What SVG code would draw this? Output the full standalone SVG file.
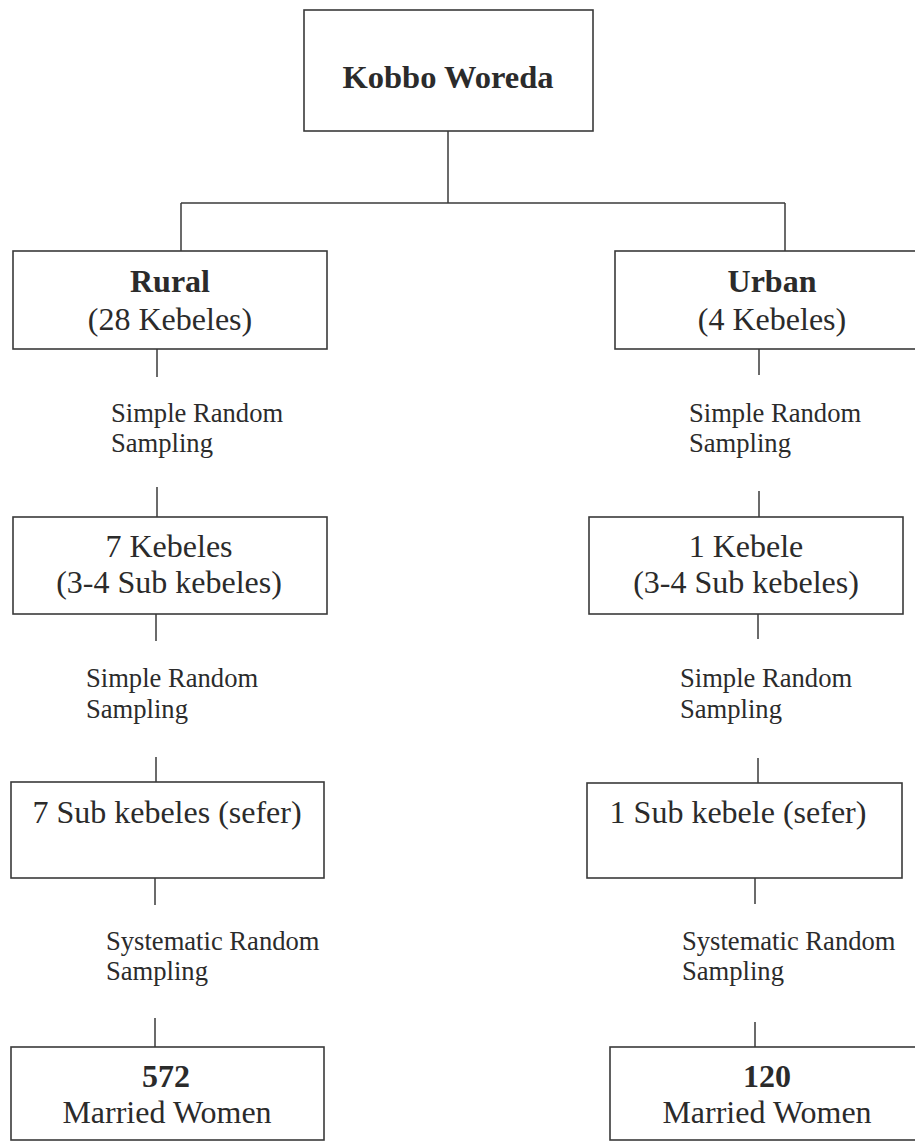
<svg xmlns="http://www.w3.org/2000/svg" width="915" height="1141" viewBox="0 0 915 1141">
<style>
  .box { fill: #ffffff; stroke: #3a3a3a; stroke-width: 1.6; }
  .conn line { stroke: #3a3a3a; stroke-width: 1.5; }
  text { font-family: "Liberation Serif", "Times New Roman", serif; fill: #2b2b2b; }
  .t { font-size: 32px; text-anchor: middle; }
  .b { font-weight: bold; }
  .k { font-size: 32.5px; }
  .lbl { font-size: 26.6px; }
</style>
<rect width="915" height="1141" fill="#ffffff"/>
<g id="connectors" class="conn">
  <line x1="448" y1="131" x2="448" y2="203"/>
  <line x1="181" y1="203" x2="785" y2="203"/>
  <line x1="181" y1="203" x2="181" y2="251"/>
  <line x1="785" y1="203" x2="785" y2="251"/>
  <line x1="157" y1="349" x2="157" y2="377"/>
  <line x1="157" y1="487" x2="157" y2="517"/>
  <line x1="759" y1="349" x2="759" y2="375"/>
  <line x1="759" y1="491" x2="759" y2="517"/>
  <line x1="156" y1="614" x2="156" y2="641"/>
  <line x1="156" y1="757" x2="156" y2="782"/>
  <line x1="758" y1="614" x2="758" y2="639"/>
  <line x1="758" y1="758" x2="758" y2="783"/>
  <line x1="155" y1="878" x2="155" y2="905"/>
  <line x1="155" y1="1018" x2="155" y2="1047"/>
  <line x1="755" y1="878" x2="755" y2="904"/>
  <line x1="755" y1="1022" x2="755" y2="1047"/>
</g>
<g id="labels">
  <text class="lbl" x="111" y="422">Simple Random</text>
  <text class="lbl" x="111" y="452">Sampling</text>
  <text class="lbl" x="689" y="422">Simple Random</text>
  <text class="lbl" x="689" y="452">Sampling</text>
  <text class="lbl" x="86" y="687">Simple Random</text>
  <text class="lbl" x="86" y="718">Sampling</text>
  <text class="lbl" x="680" y="687">Simple Random</text>
  <text class="lbl" x="680" y="718">Sampling</text>
  <text class="lbl" x="106" y="950">Systematic Random</text>
  <text class="lbl" x="106" y="980">Sampling</text>
  <text class="lbl" x="682" y="950">Systematic Random</text>
  <text class="lbl" x="682" y="980">Sampling</text>
</g>
<g id="kobbo">
  <rect class="box" x="304" y="10" width="289" height="121"/>
  <text class="t b k" x="448" y="88">Kobbo Woreda</text>
</g>
<g id="rural">
  <rect class="box" x="13" y="251" width="314" height="98"/>
  <text class="t b" x="170" y="292">Rural</text>
  <text class="t" x="170" y="330">(28 Kebeles)</text>
</g>
<g id="urban">
  <rect class="box" x="615" y="251" width="310" height="98"/>
  <text class="t b" x="772" y="292">Urban</text>
  <text class="t" x="772" y="330">(4 Kebeles)</text>
</g>
<g id="rural-kebeles">
  <rect class="box" x="13" y="517" width="314" height="97"/>
  <text class="t" x="169" y="557">7 Kebeles</text>
  <text class="t" x="169" y="593">(3-4 Sub kebeles)</text>
</g>
<g id="urban-kebele">
  <rect class="box" x="589" y="517" width="314" height="97"/>
  <text class="t" x="746" y="557">1 Kebele</text>
  <text class="t" x="746" y="593">(3-4 Sub kebeles)</text>
</g>
<g id="rural-sub">
  <rect class="box" x="11" y="782" width="313" height="96"/>
  <text class="t" x="167" y="823">7 Sub kebeles (sefer)</text>
</g>
<g id="urban-sub">
  <rect class="box" x="587" y="783" width="315" height="95"/>
  <text class="t" x="738" y="823">1 Sub kebele (sefer)</text>
</g>
<g id="rural-women">
  <rect class="box" x="11" y="1047" width="313" height="93"/>
  <text class="t b" x="166" y="1087">572</text>
  <text class="t" x="167" y="1123">Married Women</text>
</g>
<g id="urban-women">
  <rect class="box" x="610" y="1047" width="315" height="93"/>
  <text class="t b" x="767" y="1087">120</text>
  <text class="t" x="767" y="1123">Married Women</text>
</g>
</svg>
